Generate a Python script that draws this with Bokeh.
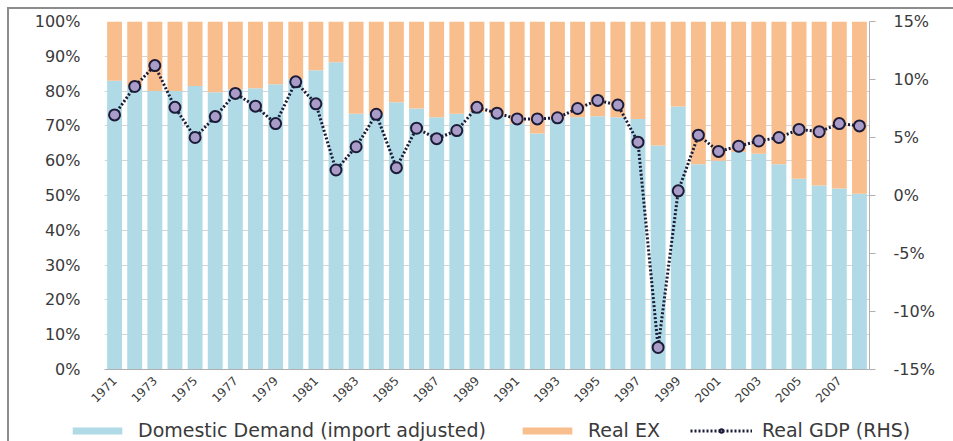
from bokeh.plotting import figure
from bokeh.layouts import column
from bokeh.models import (ColumnDataSource, Range1d, LinearAxis, FixedTicker,
                          PrintfTickFormatter, Legend, LegendItem)
from bokeh.embed import file_html
from bokeh.resources import INLINE

years = list(range(1971, 2009))
domestic_demand = [83.0, 81.5, 80.0, 80.0, 81.5, 79.7, 80.5, 80.8, 82.0, 83.5,
                   86.0, 88.3, 73.5, 73.5, 76.8, 75.0, 72.5, 73.5, 74.0, 73.0,
                   70.7, 67.8, 72.0, 72.5, 72.8, 72.5, 72.0, 64.4, 75.6, 59.0,
                   60.0, 62.5, 62.0, 59.0, 54.8, 52.9, 52.0, 50.5]
real_ex = [17.0, 18.5, 20.0, 20.0, 18.5, 20.3, 19.5, 19.2, 18.0, 16.5,
           14.0, 11.7, 26.5, 26.5, 23.2, 25.0, 27.5, 26.5, 26.0, 27.0,
           29.3, 32.2, 28.0, 27.5, 27.2, 27.5, 28.0, 35.6, 24.4, 41.0,
           40.0, 37.5, 38.0, 41.0, 45.2, 47.1, 48.0, 49.5]
real_gdp = [6.95, 9.4, 11.2, 7.6, 5.0, 6.8, 8.8, 7.7, 6.2, 9.8,
            7.9, 2.2, 4.2, 7.0, 2.4, 5.8, 4.9, 5.6, 7.6, 7.1,
            6.6, 6.6, 6.7, 7.5, 8.2, 7.8, 4.6, -13.1, 0.4, 5.2,
            3.8, 4.25, 4.7, 5.0, 5.7, 5.5, 6.2, 6.0]
x_tick_years = list(range(1971, 2009, 2))
series_labels = ["Domestic Demand (import adjusted)", "Real EX", "Real GDP (RHS)"]

BLUE = "#B0DAE6"
ORANGE = "#F9BE8D"
LINE = "#1c1c38"
DOT = "#A99CC8"
TEXT = "#3a3a3a"
FONT = "DejaVu Sans"

src = ColumnDataSource(dict(year=years, dd=domestic_demand, ex=real_ex, gdp=real_gdp))

p = figure(frame_width=765, frame_height=348, output_backend="svg", toolbar_location=None,
           x_range=Range1d(1970.5, 2008.5), y_range=Range1d(0, 100),
           min_border_left=95, min_border_right=84, min_border_top=12,
           min_border_bottom=38)
p.frame_align = False
p.outline_line_color = None
p.background_fill_color = "white"
p.border_fill_color = "white"

p.extra_y_ranges = {"gdp": Range1d(-15, 15)}

bars = p.vbar_stack(["dd", "ex"], x="year", width=0.74, source=src,
                    color=[BLUE, ORANGE], line_color=None)

line_r = p.line("year", "gdp", source=src, y_range_name="gdp",
                line_color=LINE, line_width=3, line_dash="2 2")
circ_r = p.scatter("year", "gdp", source=src, y_range_name="gdp", size=11,
                   fill_color=DOT, line_color=LINE, line_width=2)

# left axis
yl = p.yaxis[0]
yl.ticker = FixedTicker(ticks=list(range(0, 101, 10)))
yl.formatter = PrintfTickFormatter(format="%d%%")
yl.axis_line_color = None
yl.major_tick_line_color = None
yl.minor_tick_line_color = None
yl.major_tick_out = 0
yl.major_label_standoff = 24
yl.major_label_text_font = FONT
yl.major_label_text_font_size = "16px"
yl.major_label_text_color = TEXT

# right axis
yr = LinearAxis(y_range_name="gdp", ticker=FixedTicker(ticks=[-15, -10, -5, 0, 5, 10, 15]),
                formatter=PrintfTickFormatter(format="%d%%"))
yr.axis_line_color = "#b0b0b0"
yr.major_tick_line_color = "#b0b0b0"
yr.major_tick_in = 0
yr.major_tick_out = 6
yr.minor_tick_line_color = None
yr.major_label_standoff = 18
yr.major_label_text_font = FONT
yr.major_label_text_font_size = "16px"
yr.major_label_text_color = TEXT
p.add_layout(yr, "right")

# x axis
xa = p.xaxis[0]
xa.ticker = FixedTicker(ticks=x_tick_years)
xa.major_label_orientation = 0.785
xa.axis_line_color = "#b0b0b0"
xa.major_tick_line_color = None
xa.minor_tick_line_color = None
xa.major_tick_out = 0
xa.major_label_standoff = 9
xa.major_label_text_font = FONT
xa.major_label_text_font_size = "12px"
xa.major_label_text_color = TEXT

p.xgrid.grid_line_color = None
p.ygrid.grid_line_color = "#d4d4d4"
p.ygrid.grid_line_width = 1

# legend strip (proxy renderers with NaN data, nothing is drawn in the strip)
lg = figure(width=944, height=32, output_backend="svg", toolbar_location=None,
            x_axis_location=None, y_axis_location=None,
            min_border=0, x_range=Range1d(0, 1), y_range=Range1d(0, 1))
lg.frame_align = False
lg.outline_line_color = None
lg.xgrid.grid_line_color = None
lg.ygrid.grid_line_color = None
nan = float("nan")
proxy = ColumnDataSource(dict(x=[nan], y=[nan]))
r_dd = lg.vbar(x="x", top="y", width=1, source=proxy, color=BLUE, line_color=None)
r_ex = lg.vbar(x="x", top="y", width=1, source=proxy, color=ORANGE, line_color=None)
r_ln = lg.line("x", "y", source=proxy, line_color=LINE, line_width=3, line_dash="2 2")
r_pt = lg.scatter("x", "y", source=proxy, size=11, fill_color=DOT, line_color=LINE, line_width=2)

legend = Legend(items=[
    LegendItem(label=series_labels[0], renderers=[r_dd]),
    LegendItem(label=series_labels[1], renderers=[r_ex]),
    LegendItem(label=series_labels[2], renderers=[r_ln, r_pt]),
], orientation="horizontal", location=(57, 0), glyph_width=62, glyph_height=9,
    label_text_font=FONT, label_text_font_size="19px", label_text_color=TEXT,
    label_standoff=10, spacing=30, padding=0, margin=0,
    border_line_color=None, background_fill_alpha=0)
lg.add_layout(legend, "center")

layout = column(p, lg, spacing=0)
layout.styles = {"margin-left": "7px", "margin-top": "7px",
                 "border-top": "2px solid #8c8c8c", "border-left": "2px solid #8c8c8c",
                 "border-bottom": "1px solid #e2e2e2"}

open("out.html", "w").write(file_html(layout, INLINE))
